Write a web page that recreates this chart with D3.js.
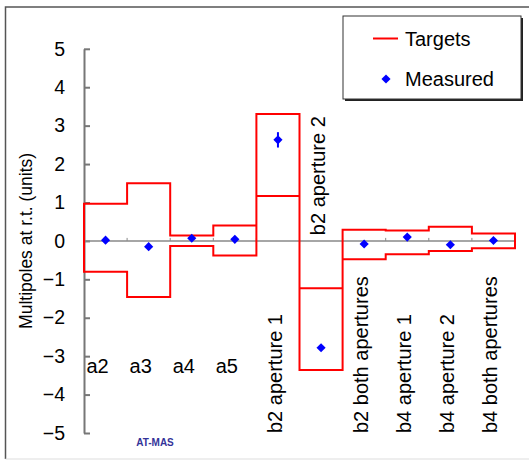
<!DOCTYPE html>
<html>
<head>
    <title>Multipoles</title>
    <meta http-equiv="content-type" content="text/html; charset=UTF-8">
    <script type="text/javascript" src="https://cdn.jsdelivr.net/npm/d3@7"></script>
</head>
<body style="margin:0">

<style>
    text {
        font-family: "Liberation Sans", Arial, sans-serif;
        fill: black;
    }
</style>

<script type="text/javascript">
    // categories along the x axis
    var categories = ["a2", "a3", "a4", "a5", "b2 aperture 1", "b2 aperture 2",
        "b2 both apertures", "b4 aperture 1", "b4 aperture 2", "b4 both apertures"];

    // target window (upper / lower bound) per category
    var targetUpper = [0.97, 1.5, 0.14, 0.4, 3.3, -1.23, 0.29, 0.27, 0.37, 0.19];
    var targetLower = [-0.8, -1.46, -0.13, -0.38, 1.17, -3.36, -0.48, -0.35, -0.26, -0.19];

    // measured values and error bars
    var measured = [0.02, -0.15, 0.07, 0.04, 2.63, -2.78, -0.08, 0.1, -0.1, 0.01];
    var measuredErr = [0, 0, 0, 0, 0.2, 0, 0, 0, 0, 0];

    var yTicks = [5, 4, 3, 2, 1, 0, -1, -2, -3, -4, -5];

    var width = 529, height = 461;

    var svg = d3.select("body").append("svg")
        .attr("width", width)
        .attr("height", height);

    // outer frame
    svg.append("path")
        .attr("d", "M5.5,459 L5.5,7 L529,7")
        .attr("fill", "none")
        .attr("stroke", "#555")
        .attr("stroke-width", 1.5);
    svg.append("line")
        .attr("x1", 5.5).attr("x2", 529)
        .attr("y1", 459).attr("y2", 459)
        .attr("stroke", "#ddd");

    var x = d3.scaleBand()
        .domain(categories)
        .range([84, 515])
        .padding(0);

    var y = d3.scaleLinear()
        .domain([-5, 5])
        .range([433, 48.8]);

    var bw = x.bandwidth();

    // y axis, ticks pointing inward
    var yAxis = svg.append("g")
        .attr("transform", "translate(84,0)")
        .call(d3.axisLeft(y)
            .tickValues(yTicks)
            .tickFormat(d3.format("d"))
            .tickSizeInner(-6)
            .tickSizeOuter(0)
            .tickPadding(19));
    yAxis.selectAll("path, line")
        .attr("stroke", "#777")
        .attr("stroke-width", 2);
    yAxis.selectAll("text")
        .style("font-size", "19.5px")
        .style("font-family", "'Liberation Sans', Arial, sans-serif")
        .attr("fill", "black");

    // zero line with category ticks
    svg.append("line")
        .attr("x1", x.range()[0]).attr("x2", x.range()[1])
        .attr("y1", y(0)).attr("y2", y(0))
        .attr("stroke", "#888")
        .attr("stroke-width", 1.5);
    svg.selectAll(".cattick")
        .data(categories.slice(1))
        .enter().append("line")
        .attr("class", "cattick")
        .attr("x1", function (d) { return x(d); })
        .attr("x2", function (d) { return x(d); })
        .attr("y1", y(0) - 3)
        .attr("y2", y(0))
        .attr("stroke", "#888")
        .attr("stroke-width", 1);

    // target window as a closed step outline
    var upperPts = [], lowerPts = [];
    categories.forEach(function (c, i) {
        upperPts.push([x(c), y(targetUpper[i])], [x(c) + bw, y(targetUpper[i])]);
        lowerPts.push([x(c), y(targetLower[i])], [x(c) + bw, y(targetLower[i])]);
    });
    var line = d3.line();
    svg.append("path")
        .attr("d", line(upperPts.concat(lowerPts.reverse())) + "Z")
        .attr("fill", "none")
        .attr("stroke", "#ff0000")
        .attr("stroke-width", 2);

    // error bars
    svg.selectAll(".err")
        .data(categories.filter(function (c, i) { return measuredErr[i] > 0; }))
        .enter().append("line")
        .attr("class", "err")
        .attr("x1", function (d) { return x(d) + bw / 2; })
        .attr("x2", function (d) { return x(d) + bw / 2; })
        .attr("y1", function (d) { var i = categories.indexOf(d); return y(measured[i] + measuredErr[i]); })
        .attr("y2", function (d) { var i = categories.indexOf(d); return y(measured[i] - measuredErr[i]); })
        .attr("stroke", "#0000ff")
        .attr("stroke-width", 2);

    // measured diamonds
    var diamond = d3.symbol().type(d3.symbolSquare).size(42);
    svg.selectAll(".pt")
        .data(categories)
        .enter().append("path")
        .attr("class", "pt")
        .attr("d", diamond)
        .attr("fill", "#0000ff")
        .attr("transform", function (d, i) {
            return "translate(" + (x(d) + bw / 2) + "," + y(measured[i]) + ") rotate(45)";
        });

    // category labels: a-terms horizontal, b-terms vertical
    categories.forEach(function (c, i) {
        if (c.charAt(0) === "a") {
            svg.append("text")
                .attr("x", x(c) + bw / 2 - 8)
                .attr("y", y(-3.45))
                .attr("text-anchor", "middle")
                .style("font-size", "20px")
                .text(c);
        } else {
            var yb = c === "b2 aperture 2" ? y(0.15) : y(-5);
            svg.append("text")
                .attr("transform", "translate(" + (x(c) + bw / 2 - 3) + "," + yb + ") rotate(-90)")
                .attr("dominant-baseline", "central")
                .style("font-size", "20px")
                .text(c);
        }
    });

    // y axis title
    svg.append("text")
        .attr("transform", "translate(26," + y(0) + ") rotate(-90)")
        .attr("text-anchor", "middle")
        .attr("dominant-baseline", "central")
        .style("font-size", "17.5px")
        .text("Multipoles at r.t. (units)");

    // small tag
    svg.append("text")
        .attr("x", 155)
        .attr("y", 442)
        .attr("text-anchor", "middle")
        .attr("dominant-baseline", "central")
        .style("font-size", "10px")
        .style("font-weight", "bold")
        .style("fill", "#333399")
        .text("AT-MAS");

    // legend
    var legend = svg.append("g").attr("transform", "translate(343,16)");
    legend.append("rect")
        .attr("x", 2).attr("y", 2)
        .attr("width", 178).attr("height", 83)
        .attr("fill", "#222");
    legend.append("rect")
        .attr("x", 0).attr("y", 0)
        .attr("width", 178).attr("height", 83)
        .attr("fill", "white")
        .attr("stroke", "#333")
        .attr("stroke-width", 1);
    legend.append("line")
        .attr("x1", 30).attr("x2", 55)
        .attr("y1", 22.5).attr("y2", 22.5)
        .attr("stroke", "#ff0000")
        .attr("stroke-width", 2);
    legend.append("path")
        .attr("d", diamond)
        .attr("fill", "#0000ff")
        .attr("transform", "translate(43,63) rotate(45)");
    legend.append("text")
        .attr("x", 62).attr("y", 22.5)
        .attr("dominant-baseline", "central")
        .style("font-size", "20px")
        .text("Targets");
    legend.append("text")
        .attr("x", 62).attr("y", 63)
        .attr("dominant-baseline", "central")
        .style("font-size", "20px")
        .text("Measured");
</script>
</body>
</html>
